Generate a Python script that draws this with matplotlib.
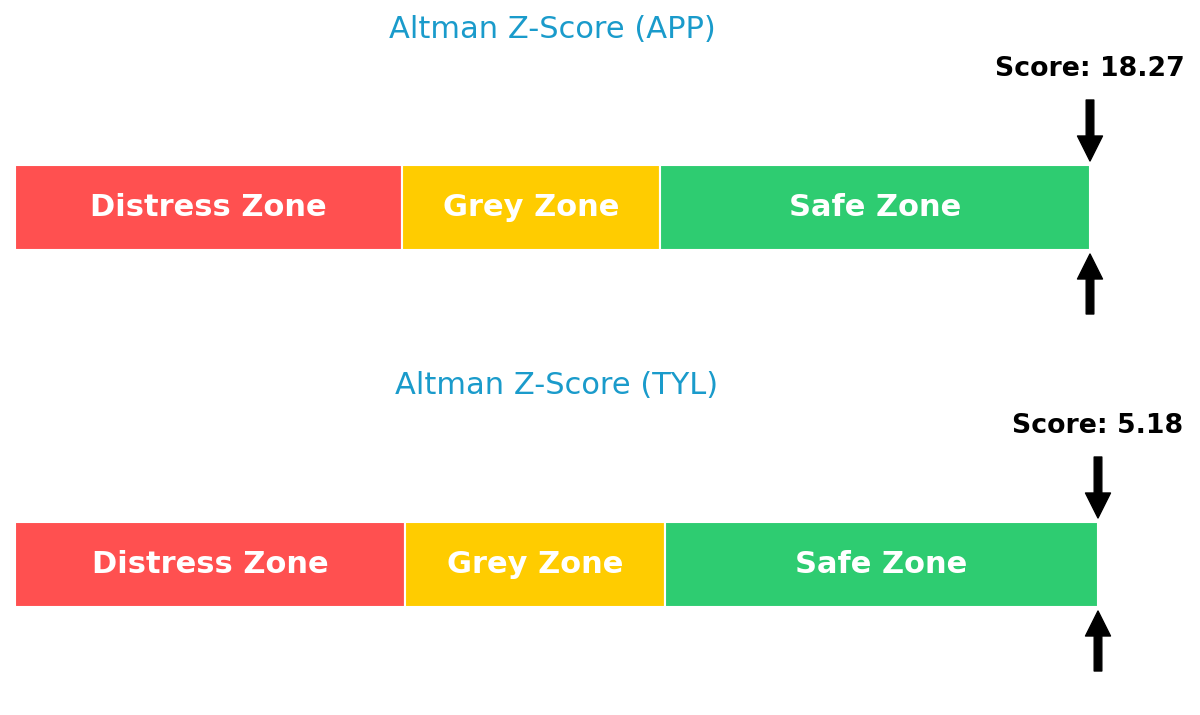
import matplotlib
matplotlib.use("Agg")
import matplotlib.pyplot as plt

# Data
companies = ["APP", "TYL"]
scores = [18.27, 5.18]
zone_names = ["Distress Zone", "Grey Zone", "Safe Zone"]
zone_bounds = [0.0, 1.8, 3.0, 5.0]
zone_colors = ["#FF5050", "#FFCC00", "#2ECC71"]
title_color = "#1A9BCB"

fig = plt.figure(figsize=(12, 7.15), dpi=100)
W, H = 1200.0, 715.0
# axis placement (pixels): left, right edge of bar region; panel top
panels = [(15, 1090, 0), (15, 1098, 357)]
panel_h = 358
bar_center_px = 207.5
unit_px = 85.0  # bar height


def py(px):
    """convert a pixel offset from panel top to data y"""
    return (bar_center_px - px) / unit_px


for i, (comp, score) in enumerate(zip(companies, scores)):
    lpx, rpx, tpx = panels[i]
    ax = fig.add_axes([lpx / W, 1 - (tpx + panel_h) / H, (rpx - lpx) / W, panel_h / H])
    ax.set_xlim(zone_bounds[0], zone_bounds[-1])
    ax.set_ylim(py(panel_h), py(0))
    ax.axis("off")

    for j in range(3):
        left = zone_bounds[j]
        width = zone_bounds[j + 1] - zone_bounds[j]
        ax.barh(0, width, left=left, height=1.0, color=zone_colors[j],
                edgecolor="white", linewidth=1.5, zorder=2)
        ax.text(left + width / 2, 0, zone_names[j], ha="center", va="center",
                color="white", fontsize=22, fontweight="bold", zorder=3)

    xm = min(score, zone_bounds[-1])
    arrow = dict(facecolor="black", edgecolor="black", width=5.5,
                 headwidth=18, headlength=18, shrink=0)
    ax.annotate("", xy=(xm, py(161)), xytext=(xm, py(100)),
                arrowprops=arrow, annotation_clip=False)
    ax.annotate("", xy=(xm, py(254)), xytext=(xm, py(314)),
                arrowprops=arrow, annotation_clip=False)
    ax.text(xm, py(76), f"Score: {score:.2f}",
            ha="center", va="baseline", fontsize=19.3, fontweight="bold",
            color="black", clip_on=False)
    ax.text((zone_bounds[0] + zone_bounds[-1]) / 2, py(37.5),
            f"Altman Z-Score ({comp})", ha="center", va="baseline",
            fontsize=22, color=title_color, clip_on=False)

fig.savefig("out.png", dpi=100, facecolor="white")
